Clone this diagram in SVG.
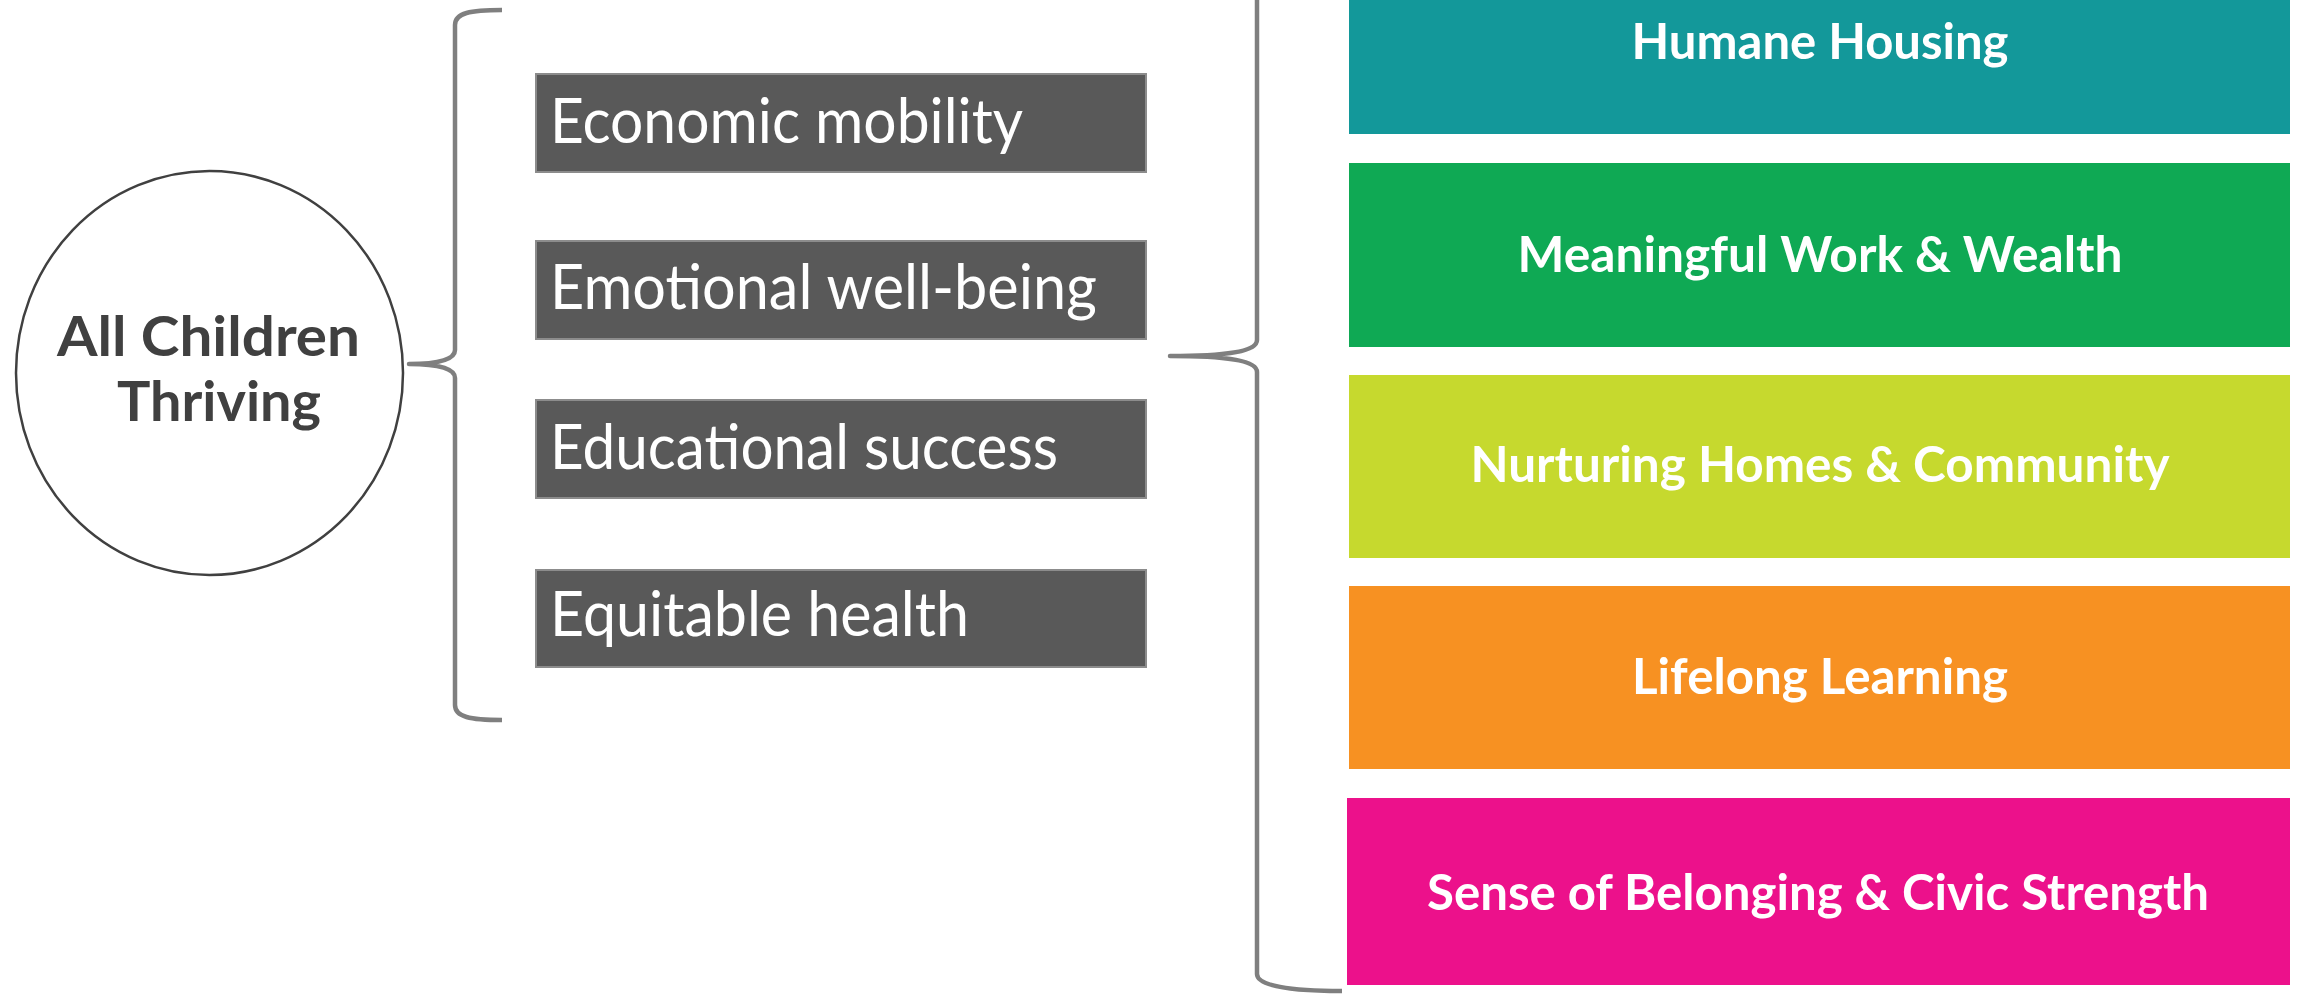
<svg xmlns="http://www.w3.org/2000/svg" width="2313" height="994" viewBox="0 0 2313 994">
<style>
.brace{fill:none;stroke:#7f7f7f;stroke-width:4.5;stroke-linejoin:round}
.gbox{fill:#595959;stroke:#8c8c8c;stroke-width:2}
.gtxt{font-family:Lato,"Open Sans",sans-serif;font-size:62px;fill:#ffffff}
.ctxt{font-family:Lato,"Open Sans",sans-serif;font-weight:bold;font-size:50px;fill:#ffffff;text-anchor:middle}
.main{font-family:Lato,"Open Sans",sans-serif;font-weight:bold;font-size:56px;fill:#404040}
</style>
<rect width="2313" height="994" fill="#ffffff"/>
<g id="connectors">
<path class="brace" d="M502,10 C470,10 455,13 455,25 L455,350 C455,359 440,364 409,364 C440,364 455,369 455,378 L455,705 C455,717 470,720 502,720"/>
<path class="brace" d="M1342,-279 C1290,-279 1257,-274 1257,-262 L1257,340 C1257,351 1230,356 1170,356 C1230,356 1257,361 1257,372 L1257,974 C1257,986 1290,991 1342,991"/>
</g>
<g id="all-children-thriving">
<ellipse cx="209.5" cy="373" rx="193.5" ry="202" fill="#ffffff" stroke="#404040" stroke-width="2.5"/>
<text class="main" x="57" y="356" textLength="303" lengthAdjust="spacingAndGlyphs">All Children</text>
<text class="main" x="117" y="421" textLength="204" lengthAdjust="spacingAndGlyphs">Thriving</text>
</g>
<g id="economic-mobility">
<rect class="gbox" x="536" y="74" width="610" height="98"/>
<text class="gtxt" x="550" y="143" textLength="473" lengthAdjust="spacingAndGlyphs">Economic mobility</text>
</g>
<g id="emotional-well-being">
<rect class="gbox" x="536" y="241" width="610" height="98"/>
<text class="gtxt" x="550" y="309" textLength="547" lengthAdjust="spacingAndGlyphs">Emotional well-being</text>
</g>
<g id="educational-success">
<rect class="gbox" x="536" y="400" width="610" height="98"/>
<text class="gtxt" x="550" y="469" textLength="508" lengthAdjust="spacingAndGlyphs">Educational success</text>
</g>
<g id="equitable-health">
<rect class="gbox" x="536" y="570" width="610" height="97"/>
<text class="gtxt" x="550" y="636" textLength="419" lengthAdjust="spacingAndGlyphs">Equitable health</text>
</g>
<g id="humane-housing">
<rect x="1349" y="-50" width="941" height="184" fill="#13989a"/>
<text class="ctxt" x="1820" y="59" textLength="377" lengthAdjust="spacingAndGlyphs">Humane Housing</text>
</g>
<g id="meaningful-work">
<rect x="1349" y="163" width="941" height="184" fill="#0fa954"/>
<text class="ctxt" x="1820" y="272" textLength="605" lengthAdjust="spacingAndGlyphs">Meaningful Work &amp; Wealth</text>
</g>
<g id="nurturing-homes">
<rect x="1349" y="375" width="941" height="183" fill="#c6d92e"/>
<text class="ctxt" x="1820" y="482" textLength="699" lengthAdjust="spacingAndGlyphs">Nurturing Homes &amp; Community</text>
</g>
<g id="lifelong-learning">
<rect x="1349" y="586" width="941" height="183" fill="#f79122"/>
<text class="ctxt" x="1820" y="694" textLength="376" lengthAdjust="spacingAndGlyphs">Lifelong Learning</text>
</g>
<g id="sense-of-belonging">
<rect x="1347" y="798" width="943" height="187" fill="#ec118b"/>
<text class="ctxt" x="1818" y="910" textLength="782" lengthAdjust="spacingAndGlyphs">Sense of Belonging &amp; Civic Strength</text>
</g>
</svg>
